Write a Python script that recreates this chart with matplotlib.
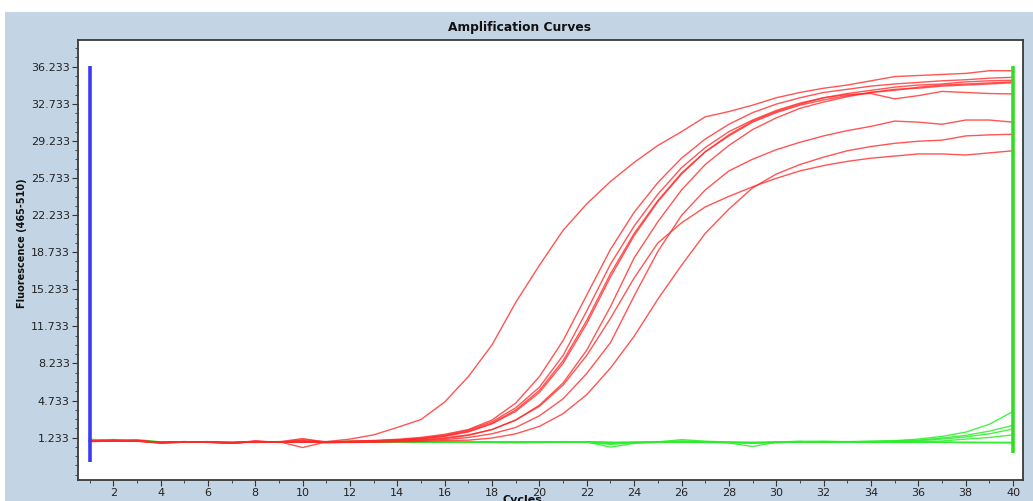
import matplotlib
matplotlib.use("Agg")
import matplotlib.pyplot as plt
from matplotlib.ticker import FixedLocator, MultipleLocator
from matplotlib.patches import Rectangle

cycles = list(range(1, 41))

# positive samples (red) - fluorescence per cycle 1..40
red_a = [0.95, 1.00, 0.92, 0.75, 0.85, 0.80, 0.74, 0.86, 0.84, 0.82,
         0.86, 1.10, 1.50, 2.20, 2.95, 4.60, 7.00, 10.0, 14.0, 17.5,
         20.8, 23.3, 25.4, 27.2, 28.8, 30.1, 31.5, 32.0, 32.6, 33.3,
         33.8, 34.2, 34.5, 34.9, 35.3, 35.4, 35.5, 35.6, 35.85, 35.85]
red_b = [0.90, 0.95, 0.96, 0.78, 0.82, 0.84, 0.70, 0.88, 0.80, 1.05,
         0.85, 0.90, 0.97, 1.08, 1.26, 1.55, 2.00, 2.90, 4.50, 7.00,
         10.4, 14.7, 19.0, 22.5, 25.3, 27.6, 29.4, 30.8, 31.9, 32.7,
         33.3, 33.8, 34.1, 34.4, 34.6, 34.75, 34.9, 35.0, 35.15, 35.23]
red_c = [0.92, 0.90, 0.94, 0.80, 0.86, 0.78, 0.76, 0.82, 0.86, 0.30,
         0.84, 0.87, 0.94, 1.02, 1.18, 1.46, 1.94, 2.74, 4.05, 6.00,
         9.00, 13.2, 17.6, 21.2, 24.2, 26.7, 28.6, 30.1, 31.2, 32.1,
         32.8, 33.3, 33.6, 33.7, 33.2, 33.5, 33.9, 33.8, 33.7, 33.66]
red_d = [0.88, 0.97, 0.90, 0.72, 0.80, 0.82, 0.78, 0.90, 0.78, 0.90,
         0.80, 0.87, 0.92, 1.00, 1.15, 1.39, 1.84, 2.60, 3.84, 5.70,
         8.50, 12.3, 16.7, 20.5, 23.6, 26.2, 28.2, 29.7, 31.0, 31.9,
         32.6, 33.1, 33.5, 33.8, 34.1, 34.2, 34.4, 34.5, 34.6, 34.72]
red_e = [0.94, 0.92, 0.98, 0.76, 0.84, 0.86, 0.72, 0.84, 0.82, 0.95,
         0.82, 0.87, 0.92, 0.99, 1.13, 1.36, 1.77, 2.54, 3.72, 5.50,
         8.25, 12.0, 16.4, 20.3, 23.5, 26.1, 28.2, 29.8, 31.1, 32.0,
         32.7, 33.3, 33.7, 34.0, 34.3, 34.5, 34.6, 34.8, 34.9, 34.95]
red_f = [0.90, 0.94, 0.90, 0.74, 0.82, 0.80, 0.70, 0.92, 0.80, 0.85,
         0.78, 0.83, 0.87, 0.94, 1.04, 1.22, 1.50, 2.00, 2.90, 4.30,
         6.40, 9.50, 13.6, 18.2, 21.6, 24.6, 27.0, 28.8, 30.3, 31.4,
         32.3, 32.9, 33.4, 33.8, 34.0, 34.3, 34.5, 34.6, 34.7, 34.8]
red_g = [0.86, 0.92, 0.95, 0.78, 0.80, 0.82, 0.74, 0.88, 0.84, 1.15,
         0.80, 0.82, 0.86, 0.92, 1.00, 1.15, 1.45, 2.00, 2.90, 4.20,
         6.20, 9.00, 12.5, 16.3, 19.6, 21.5, 23.0, 24.0, 24.9, 25.7,
         26.4, 26.9, 27.3, 27.6, 27.8, 28.0, 28.0, 27.9, 28.1, 28.3]
red_h = [0.92, 0.98, 0.92, 0.80, 0.86, 0.80, 0.76, 0.84, 0.80, 0.88,
         0.76, 0.80, 0.84, 0.88, 0.95, 1.05, 1.25, 1.60, 2.20, 3.30,
         4.90, 7.30, 10.2, 14.6, 18.8, 22.2, 24.6, 26.4, 27.5, 28.4,
         29.1, 29.7, 30.2, 30.6, 31.1, 31.0, 30.8, 31.2, 31.2, 31.0]
red_i = [0.88, 0.94, 0.96, 0.76, 0.80, 0.84, 0.72, 0.86, 0.82, 0.80,
         0.78, 0.78, 0.80, 0.84, 0.88, 0.95, 1.00, 1.20, 1.60, 2.30,
         3.50, 5.30, 7.80, 10.8, 14.3, 17.5, 20.5, 22.8, 24.8, 26.1,
         27.0, 27.7, 28.3, 28.7, 29.0, 29.2, 29.3, 29.7, 29.8, 29.86]

# negative samples (green)
green_1 = [1.05, 1.02, 1.00, 0.80, 0.86, 0.82, 0.78, 0.84, 0.86, 0.85,
           0.84, 0.86, 0.84, 0.82, 0.84, 0.85, 0.83, 0.80, 0.78, 0.84,
           0.86, 0.83, 0.70, 0.78, 0.86, 0.92, 0.84, 0.80, 0.70, 0.82,
           0.90, 0.86, 0.84, 0.88, 0.95, 1.10, 1.35, 1.75, 2.50, 3.70]
green_2 = [1.00, 1.06, 0.95, 0.78, 0.84, 0.86, 0.76, 0.80, 0.84, 0.88,
           0.82, 0.90, 0.86, 0.84, 0.80, 0.86, 0.84, 0.78, 0.80, 0.86,
           0.84, 0.80, 0.60, 0.74, 0.82, 1.05, 0.90, 0.82, 0.78, 0.76,
           0.84, 0.90, 0.86, 0.90, 0.92, 1.00, 1.20, 1.45, 1.85, 2.40]
green_3 = [1.08, 0.98, 1.02, 0.82, 0.80, 0.84, 0.80, 0.86, 0.80, 0.82,
           0.86, 0.84, 0.80, 0.86, 0.82, 0.80, 0.86, 0.82, 0.84, 0.82,
           0.80, 0.86, 0.78, 0.82, 0.80, 0.88, 0.86, 0.76, 0.72, 0.80,
           0.86, 0.82, 0.84, 0.86, 0.88, 0.94, 1.10, 1.30, 1.60, 2.05]
green_4 = [0.98, 1.04, 0.96, 0.76, 0.82, 0.80, 0.82, 0.78, 0.82, 0.80,
           0.80, 0.82, 0.86, 0.80, 0.86, 0.82, 0.80, 0.84, 0.82, 0.80,
           0.82, 0.84, 0.80, 0.76, 0.84, 0.80, 0.78, 0.74, 0.40, 0.80,
           0.84, 0.80, 0.86, 0.84, 0.82, 0.86, 0.92, 1.10, 1.25, 1.50]
green_5 = [1.02, 1.00, 1.04, 0.84, 0.84, 0.80, 0.76, 0.82, 0.84, 0.86,
           0.82, 0.80, 0.82, 0.84, 0.82, 0.84, 0.82, 0.80, 0.76, 0.78,
           0.82, 0.80, 0.74, 0.80, 0.84, 0.82, 0.80, 0.78, 0.76, 0.78,
           0.80, 0.84, 0.80, 0.82, 0.80, 0.78, 0.80, 0.82, 0.80, 0.80]
green_6 = [0.96, 1.00, 0.98, 0.80, 0.80, 0.84, 0.80, 0.84, 0.80, 0.84,
           0.84, 0.82, 0.80, 0.82, 0.84, 0.82, 0.86, 0.84, 0.82, 0.84,
           0.80, 0.82, 0.34, 0.70, 0.80, 0.84, 0.82, 0.80, 0.80, 0.84,
           0.86, 0.80, 0.82, 0.80, 0.84, 0.82, 0.80, 0.76, 0.74, 0.72]

red_series = [red_a, red_b, red_c, red_d, red_e, red_f, red_g, red_h, red_i]
green_series = [green_1, green_2, green_3, green_4, green_5, green_6]

ytick_values = [1.233, 4.733, 8.233, 11.733, 15.233, 18.733,
                22.233, 25.733, 29.233, 32.733, 36.233]
ytick_labels = ["1.233", "4.733", "8.233", "11.733", "15.233", "18.733",
                "22.233", "25.733", "29.233", "32.733", "36.233"]
xtick_values = [2, 4, 6, 8, 10, 12, 14, 16, 18, 20,
                22, 24, 26, 28, 30, 32, 34, 36, 38, 40]
start_cycle = 1
end_cycle = 40

W, H = 1033, 501
fig = plt.figure(figsize=(W / 100, H / 100), dpi=100)
fig.patch.set_facecolor("white")
fig.patches.append(Rectangle((5 / W, 0), 1 - 5 / W, 1 - 12 / H,
                             transform=fig.transFigure, facecolor="#c3d4e4",
                             edgecolor="none", zorder=-10))

ax = fig.add_axes([78 / W, 1 - 480 / H, (1023 - 78) / W, (480 - 40) / H])
ax.set_facecolor("white")

for g in green_series:
    ax.plot(cycles, g, color="#2aee2a", lw=1.0, alpha=0.85, zorder=2)
for r in red_series:
    ax.plot(cycles, r, color="#ff2a2a", lw=1.0, alpha=0.8, zorder=3)

ax.vlines(start_cycle, -1.06, 36.3, color="#3b3bf5", lw=2.6, zorder=4)
ax.vlines(end_cycle, -0.2, 36.3, color="#33dd22", lw=2.6, zorder=4)

ax.set_xlim(0.514, 40.42)
ax.set_ylim(-2.76, 38.75)

ax.yaxis.set_major_locator(FixedLocator(ytick_values))
ax.set_yticklabels(ytick_labels)
ax.yaxis.set_minor_locator(MultipleLocator(0.875, offset=1.233))
ax.xaxis.set_major_locator(FixedLocator(xtick_values))
ax.xaxis.set_minor_locator(MultipleLocator(1))

ax.tick_params(axis="both", which="major", direction="out", length=4,
               width=0.8, color="#333333", labelsize=8, labelcolor="#222222", pad=2)
ax.tick_params(axis="x", which="major", pad=1.5)
ax.tick_params(axis="both", which="minor", direction="out", length=2,
               width=0.6, color="#333333")

for side in ["left", "bottom", "top", "right"]:
    ax.spines[side].set_color("#3a3a3a")
    ax.spines[side].set_linewidth(1.3)

fig.text(519 / W, 1 - 28 / H, "Amplification Curves", ha="center", va="center",
         fontsize=8.8, fontweight="bold", color="#111111")
fig.text(22 / W, 1 - 243 / H, "Fluorescence (465-510)", ha="center", va="center",
         rotation=90, fontsize=7, fontweight="bold", color="#111111")
fig.text(522 / W, 1 - 495 / H, "Cycles", ha="center", va="top",
         fontsize=8, fontweight="bold", color="#111111")

fig.savefig("out.png", dpi=100, facecolor=fig.get_facecolor())
